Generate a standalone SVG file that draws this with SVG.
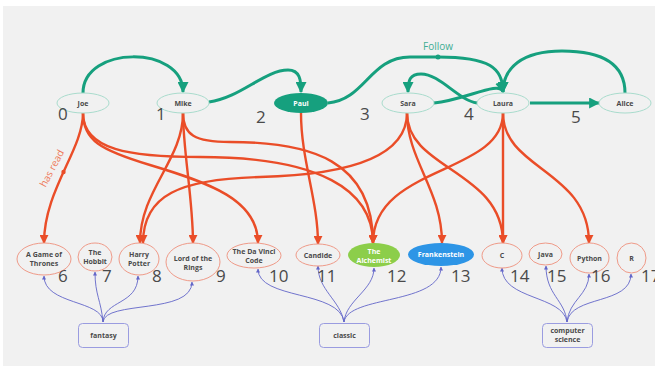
<svg xmlns="http://www.w3.org/2000/svg" width="655" height="366" viewBox="0 0 655 366">
<defs>
<style>
.bg{fill:#f1f1f1}
.per{fill:#f1f1f1;stroke:#a9dccd;stroke-width:1}
.book{fill:#f1f1f1;stroke:#ef9a88;stroke-width:1}
.cat{fill:#f1f1f1;stroke:#9a9ce0;stroke-width:1}
.lbl{font-family:"Open Sans","Liberation Sans",sans-serif;font-size:7px;font-weight:700;fill:#4a4a4a;text-anchor:middle}
.wl{fill:#ffffff}
.num{font-family:"Open Sans","Liberation Sans",sans-serif;font-size:17px;font-weight:400;fill:#4a4a4a}
.fol{fill:none;stroke:#16a07e;stroke-width:3;marker-end:url(#at)}
.rd{fill:none;stroke:#ea4d28;stroke-width:2.4;marker-end:url(#ao)}
.ct{fill:none;stroke:#6265c8;stroke-width:0.9;marker-end:url(#ap)}
</style>
<marker id="at" viewBox="0 0 10 10" refX="9" refY="5" markerWidth="11" markerHeight="11" markerUnits="userSpaceOnUse" orient="auto"><path d="M0,0 L10,5 L0,10 z" fill="#16a07e"/></marker>
<marker id="ao" viewBox="0 0 10 10" refX="9" refY="5" markerWidth="9" markerHeight="9" markerUnits="userSpaceOnUse" orient="auto"><path d="M0,0 L10,5 L0,10 z" fill="#ea4d28"/></marker>
<marker id="ap" viewBox="0 0 10 10" refX="9" refY="5" markerWidth="4" markerHeight="4" markerUnits="userSpaceOnUse" orient="auto"><path d="M0,0 L10,5 L0,10 z" fill="#6265c8"/></marker>
</defs>
<rect x="0" y="0" width="655" height="366" fill="#ffffff"/>
<rect class="bg" x="3" y="6" width="652" height="360"/>

<g id="connectors">
<!-- follow -->
<path class="fol" d="M83,93 C83,45 183,45 183,92"/>
<path class="fol" d="M209,102 C240,98 265,70 288,70 C300,70 301,80 301,92"/>
<path class="fol" d="M328,103 C365,100 370,57 410,57 L438,57 C490,57 503,68 503,92"/>
<path class="fol" d="M625,93 C625,62 600,51 562,51 C522,51 503,68 503,92"/>
<path class="fol" d="M434,103 C465,100 500,80 503,92"/>
<path class="fol" d="M477,103 C458,100 440,74 421,74 C410,74 408,80 408,92"/>
<path class="fol" d="M530,103 L599,103"/>
<circle cx="438" cy="57" r="2.5" fill="#16a07e"/>
<text x="438" y="50" style="font-family:'Open Sans','Liberation Sans',sans-serif;font-size:10px;fill:#3fae93;text-anchor:middle">Follow</text>
<!-- has read -->
<path class="rd" d="M83,113 C83,150 44,190 44,243"/>
<circle cx="63.5" cy="172" r="2.2" fill="#ea4d28"/>
<text transform="translate(55,170) rotate(-62)" style="font-family:'Open Sans','Liberation Sans',sans-serif;font-size:10px;fill:#ee7a5a;text-anchor:middle">has read</text>
<path class="rd" d="M83,113 C83,140 100,150 150,165 C210,183 258,200 258,243"/>
<path class="rd" d="M83,113 C83,150 130,157 200,157 C320,157 373,190 373,243"/>
<path class="rd" d="M183,113 C183,135 195,142 230,142 C310,142 373,160 373,243"/>
<path class="rd" d="M183,113 C183,160 140,190 140,243"/>
<path class="rd" d="M183,113 C183,150 193,200 193,243"/>
<path class="rd" d="M301,113 C301,160 318,200 318,244"/>
<path class="rd" d="M407,113 C407,160 340,175 260,177 C180,179 143,195 143,243"/>
<path class="rd" d="M407,113 C407,160 442,190 442,243"/>
<path class="rd" d="M407,113 C407,170 503,170 503,243"/>
<path class="rd" d="M503,113 C503,175 373,165 373,243"/>
<path class="rd" d="M503,113 L503,243"/>
<path class="rd" d="M503,113 C503,170 589,170 589,243"/>
<!-- categories -->
<path class="ct" d="M103,322 C103,300 44,305 44,276"/>
<path class="ct" d="M103,322 C101,300 95,295 95,272"/>
<path class="ct" d="M103,322 C104,300 138,305 138,276"/>
<path class="ct" d="M103,322 C105,300 192,315 192,282"/>
<path class="ct" d="M344,322 C340,290 258,300 258,269"/>
<path class="ct" d="M344,322 C340,300 318,290 318,266"/>
<path class="ct" d="M344,322 C346,300 374,290 374,268"/>
<path class="ct" d="M344,322 C348,295 441,305 441,267"/>
<path class="ct" d="M567,322 C563,295 502,300 502,268"/>
<path class="ct" d="M567,322 C565,300 546,295 546,266"/>
<path class="ct" d="M567,322 C569,300 589,295 589,274"/>
<path class="ct" d="M567,322 C571,295 631,305 631,274"/>
</g>

<g id="joe"><ellipse class="per" cx="83" cy="103" rx="26" ry="10"/><text class="lbl" x="83" y="105.5">Joe</text></g>
<g id="mike"><ellipse class="per" cx="183" cy="103" rx="26" ry="10"/><text class="lbl" x="183" y="105.5">Mike</text></g>
<g id="paul"><ellipse cx="301" cy="103" rx="27" ry="10" fill="#16a07e"/><text class="lbl wl" x="301" y="105.5">Paul</text></g>
<g id="sara"><ellipse class="per" cx="408" cy="103" rx="26" ry="10"/><text class="lbl" x="408" y="105.5">Sara</text></g>
<g id="laura"><ellipse class="per" cx="503" cy="103" rx="26" ry="10"/><text class="lbl" x="503" y="105.5">Laura</text></g>
<g id="alice"><ellipse class="per" cx="625" cy="103" rx="26" ry="10"/><text class="lbl" x="625" y="105.5">Alice</text></g>

<g id="got"><ellipse class="book" cx="44" cy="259" rx="27" ry="16"/><text class="lbl" x="44" y="257">A Game of</text><text class="lbl" x="44" y="266">Thrones</text></g>
<g id="hobbit"><ellipse class="book" cx="95" cy="257" rx="17" ry="14"/><text class="lbl" x="95" y="255">The</text><text class="lbl" x="95" y="264">Hobbit</text></g>
<g id="hp"><ellipse class="book" cx="139" cy="259" rx="20" ry="16"/><text class="lbl" x="139" y="257">Harry</text><text class="lbl" x="139" y="266">Potter</text></g>
<g id="lotr"><ellipse class="book" cx="193" cy="262" rx="27" ry="19"/><text class="lbl" x="193" y="261">Lord of the</text><text class="lbl" x="193" y="270">Rings</text></g>
<g id="davinci"><ellipse class="book" cx="254" cy="255.5" rx="27" ry="12.5"/><text class="lbl" x="254" y="254">The Da Vinci</text><text class="lbl" x="254" y="263">Code</text></g>
<g id="candide"><ellipse class="book" cx="318" cy="255" rx="22" ry="11"/><text class="lbl" x="318" y="257.5">Candide</text></g>
<g id="alchemist"><ellipse cx="374" cy="255" rx="26" ry="12" fill="#8cce4a"/><text class="lbl wl" x="374" y="253.5">The</text><text class="lbl wl" x="374" y="262.5">Alchemist</text></g>
<g id="frankenstein"><ellipse cx="441" cy="254.5" rx="33" ry="11.5" fill="#2d95e6"/><text class="lbl wl" x="441" y="257">Frankenstein</text></g>
<g id="c"><ellipse class="book" cx="502" cy="255.5" rx="20" ry="12.5"/><text class="lbl" x="502" y="257.5">C</text></g>
<g id="java"><ellipse class="book" cx="545.5" cy="254" rx="16.5" ry="11"/><text class="lbl" x="545.5" y="256.5">Java</text></g>
<g id="python"><ellipse class="book" cx="589.5" cy="258" rx="19.5" ry="15"/><text class="lbl" x="589.5" y="260.5">Python</text></g>
<g id="r"><ellipse class="book" cx="631.5" cy="258" rx="14.5" ry="15"/><text class="lbl" x="631.5" y="260.5">R</text></g>

<g id="fantasy"><rect class="cat" x="78.5" y="323.5" width="50" height="24" rx="4"/><text class="lbl" x="103.5" y="338">fantasy</text></g>
<g id="classic"><rect class="cat" x="319.5" y="323.5" width="50" height="24" rx="4"/><text class="lbl" x="344.5" y="338">classic</text></g>
<g id="cs"><rect class="cat" x="542.5" y="323.5" width="50" height="24" rx="4"/><text class="lbl" x="567.5" y="333">computer</text><text class="lbl" x="567.5" y="342">science</text></g>

<g id="numbers">
<text class="num" x="58" y="120">0</text>
<text class="num" x="156" y="120">1</text>
<text class="num" x="256" y="123">2</text>
<text class="num" x="360" y="120">3</text>
<text class="num" x="464" y="120">4</text>
<text class="num" x="571" y="123">5</text>
<text class="num" x="58" y="282">6</text>
<text class="num" x="102" y="282">7</text>
<text class="num" x="152" y="282">8</text>
<text class="num" x="216" y="282">9</text>
<text class="num" x="269" y="282">10</text>
<text class="num" x="317" y="282">11</text>
<text class="num" x="387" y="282">12</text>
<text class="num" x="451" y="282">13</text>
<text class="num" x="510" y="282">14</text>
<text class="num" x="547" y="282">15</text>
<text class="num" x="591" y="282">16</text>
<text class="num" x="641" y="282">17</text>
</g>
</svg>
